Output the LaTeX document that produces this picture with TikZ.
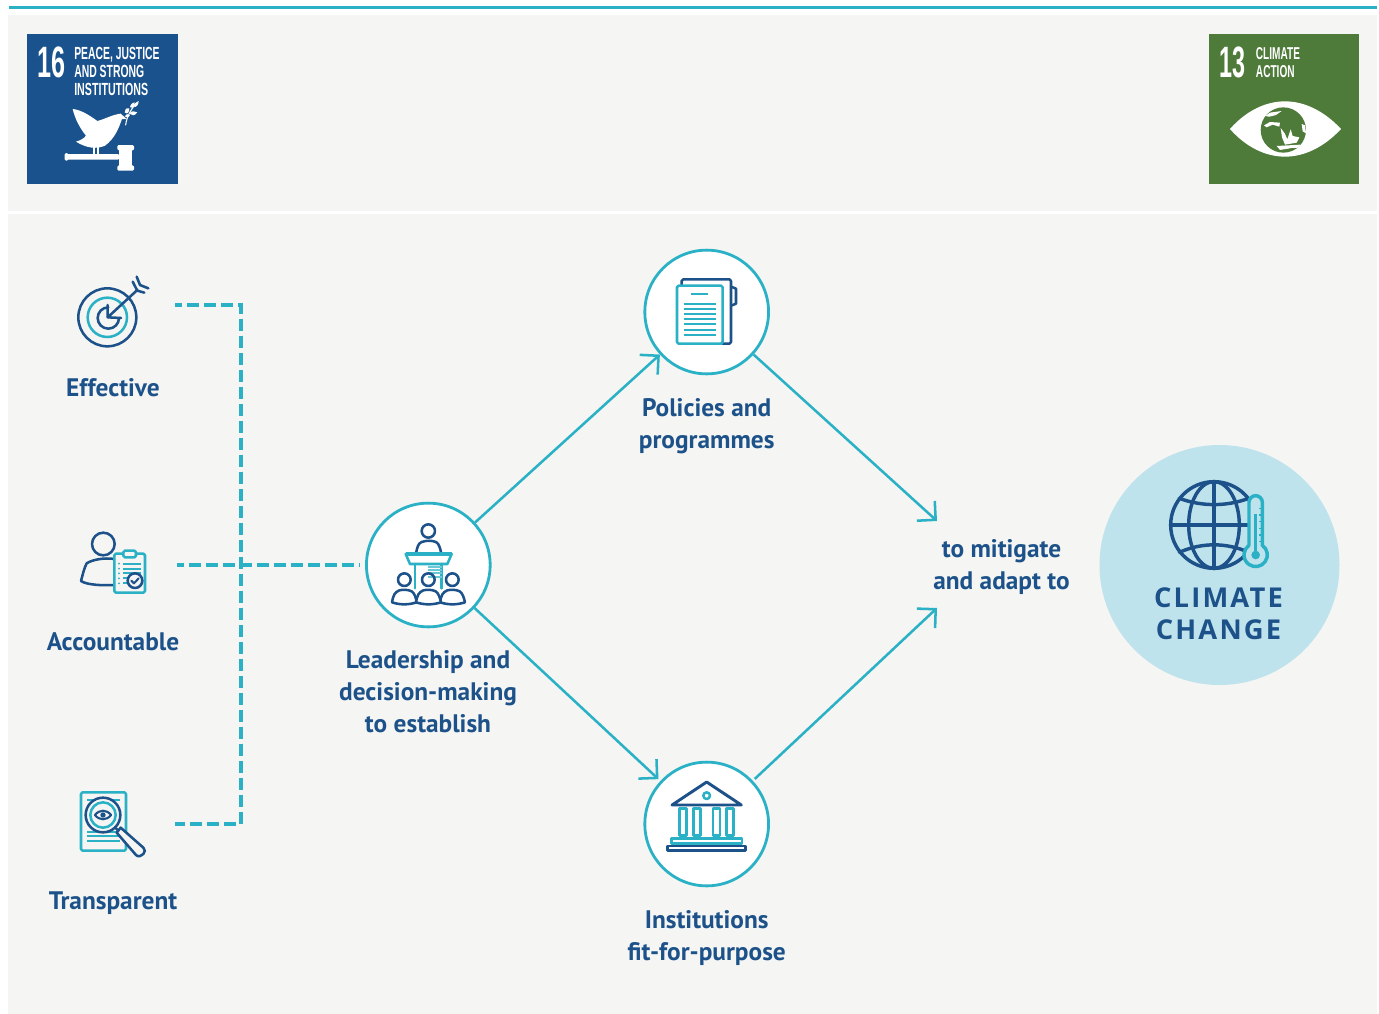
\documentclass[tikz,border=0pt]{standalone}
\usepackage{fontspec}
\usepackage{graphicx}
\setmainfont{PT Sans}
\newfontfamily\ccfont[LetterSpace=8]{Open Sans}
\newfontfamily\sdgfont{Liberation Sans}
\usetikzlibrary{arrows.meta}
\definecolor{teal}{HTML}{2BB1C6}
\definecolor{navy}{HTML}{1C5289}
\definecolor{panel}{HTML}{F5F5F3}
\definecolor{sdgblue}{HTML}{19528C}
\definecolor{sdggreen}{HTML}{4E7A3A}
\definecolor{ccfill}{HTML}{BFE3EC}
\newcommand{\sq}[3]{\resizebox{#1}{#2}{\sdgfont\bfseries #3}}
\tikzset{
  px/.style={x=0.75pt,y=-0.75pt},
  zoomed/.style={x=0.25pt,y=-0.25pt,line cap=round,line join=round},
  hub/.style={circle,draw=teal,fill=white,line width=2.1pt,minimum size=92.8pt,inner sep=0pt},
  flow/.style={draw=teal,line width=1.9pt,-{Straight Barb[length=10pt,width=19pt,line width=1.9pt,angle'=90]}},
  dashlink/.style={draw=teal,line width=2.5pt,dash pattern=on 9pt off 3.75pt,dash phase=4pt},
  label/.style={text=navy,font=\fontsize{19}{24}\selectfont\bfseries,align=center,inner sep=0pt},
  cctext/.style={text=navy,font=\fontsize{20.5}{24}\selectfont\ccfont\bfseries,align=center,inner sep=0pt},
  sdg/.style={text=white,inner sep=0pt,anchor=base west},
  ic/.style={line width=1.9pt},
  icn/.style={ic,draw=navy},
  ict/.style={ic,draw=teal},
}
\begin{document}
\begin{tikzpicture}[px]
\useasboundingbox (0,0) rectangle (1379,1014);
\fill[white] (0,0) rectangle (1379,1014);
\fill[panel] (8,15) rectangle (1377,211);
\fill[panel] (8,214) rectangle (1377,1014);
\fill[teal] (9,5.5) rectangle (1377,8.5);

% SDG 16
\fill[sdgblue] (27,34) rectangle (178,184);
\node[sdg] at (37.7,77.3) {\sq{21pt}{23pt}{16}};
\node[sdg] at (74,59.3) {\sq{64pt}{9.2pt}{PEACE, JUSTICE}};
\node[sdg] at (74,77.3) {\sq{52.5pt}{9.2pt}{AND STRONG}};
\node[sdg] at (74,95) {\sq{55.5pt}{9.2pt}{INSTITUTIONS}};
\begin{scope}[shift={(60,95)},zoomed]
\fill[white] (38,42) .. controls (60,44) and (85,58) .. (112,78)
  .. controls (135,72) and (160,58) .. (182,56) -- (200,72) -- (186,72)
  .. controls (176,100) and (165,130) .. (135,152) .. controls (110,163) and (80,160) .. (48,140)
  .. controls (62,136) and (72,130) .. (78,122) .. controls (60,100) and (45,72) .. (38,42) -- cycle;
\draw[white,line width=1.3pt,line cap=butt] (103,155) -- (103,180) (115,155) -- (115,180);
\fill[white,rounded corners=1pt] (17,177) rectangle (178,194);
\fill[white,rounded corners=1pt] (14,174) rectangle (25,197);
\fill[white] (178,160) rectangle (215,215);
\fill[white,rounded corners=1pt] (172,150) rectangle (222,166);
\fill[white,rounded corners=1pt] (172,211) rectangle (222,227);
\draw[white,line width=.8pt] (197,90) .. controls (200,65) and (212,45) .. (228,25);
\fill[white] (194,52) .. controls (196,38) and (204,38) .. (208,40) .. controls (208,52) and (202,60) .. (194,52) -- cycle;
\fill[white] (210,36) .. controls (212,24) and (222,22) .. (224,22) .. controls (224,34) and (218,42) .. (210,36) -- cycle;
\fill[white] (220,34) .. controls (226,24) and (232,18) .. (236,18) .. controls (236,30) and (228,40) .. (220,34) -- cycle;
\fill[white] (194,64) .. controls (198,56) and (204,56) .. (210,60) .. controls (206,68) and (200,70) .. (194,64) -- cycle;
\fill[white] (208,56) .. controls (214,46) and (224,48) .. (232,52) .. controls (224,64) and (214,62) .. (208,56) -- cycle;
\end{scope}

% SDG 13
\fill[sdggreen] (1209,34) rectangle (1359,184);
\node[sdg] at (1219.3,77.3) {\sq{19.5pt}{23pt}{13}};
\node[sdg] at (1255.7,59.3) {\sq{33pt}{9pt}{CLIMATE}};
\node[sdg] at (1255.7,77.3) {\sq{29pt}{9pt}{ACTION}};
\begin{scope}[shift={(1190,0)},zoomed]
\fill[white] (120,387) .. controls (170,330) and (230,304) .. (285,304) .. controls (340,304) and (400,330) .. (453,387)
  .. controls (400,444) and (340,470) .. (285,470) .. controls (230,470) and (170,444) .. (120,387) -- cycle;
\end{scope}
\begin{scope}[shift={(1250,100)},zoomed]
\fill[sdggreen] (100,90) circle[radius=68];
\begin{scope}
\clip (100,90) circle[radius=68];
\fill[white] (45,48) -- (60,38) -- (95,33) -- (78,45) -- (58,50) -- cycle;
\fill[white] (42,76) -- (60,66) -- (90,68) -- (88,80) -- (68,74) -- (50,82) -- cycle;
\fill[white] (92,84) -- (104,100) -- (112,118) -- (122,88) -- (128,108) -- (148,112) -- (140,128) -- (105,134) -- (96,112) -- cycle;
\fill[white] (80,138) -- (150,134) -- (170,142) -- (125,144) -- (90,150) -- cycle;
\fill[white] (155,72) -- (165,76) -- (168,100) -- (158,94) -- cycle;
\end{scope}
\end{scope}

% connectors
\node[hub] (lead) at (428.3,565) {};
\node[hub] (pol) at (706.7,312) {};
\node[hub,outer sep=3pt] (inst) at (706.7,824) {};
\coordinate (mitA) at (937,521);
\coordinate (mitB) at (937,608);
\coordinate (tipE) at (175,305);
\coordinate (tipT) at (175,824);
\coordinate (cornerE) at (241,305);
\coordinate (cornerT) at (241,824);
\coordinate (tipA) at (177,565);
\coordinate (leadIn) at (360,565);
\draw[flow] (lead) -- (pol);
\draw[flow] (lead) -- (inst);
\draw[flow] (pol) -- (mitA);
\draw[flow] (inst) -- (mitB);
\draw[dashlink] (tipE) -- (cornerE) -- (cornerT) -- (tipT);
\draw[dashlink] (tipA) -- (leadIn);

% labels
\node[label] (lEff) at (113,388) {Effective};
\node[label] (lAcc) at (113,642) {Accountable};
\node[label] (lTra) at (113,903) {Transparent};
\node[label] (lPol) at (706.7,426) {Policies and\\programmes};
\node[label] (lLea) at (428,692) {Leadership and\\decision-making\\to establish};
\node[label] (lIns) at (706.7,938) {Institutions\\fit-for-purpose};
\node[label] (lMit) at (1001.5,567) {to mitigate\\and adapt to};

% climate change
\node[circle,fill=ccfill,minimum size=180pt,inner sep=0pt] (cc) at (1219.5,565) {};
\node[cctext] (lCC) at (1218.5,614) {CLIMATE\\CHANGE};
\begin{scope}[shift={(1140,465)},zoomed]
\draw[icn,line width=2.6pt] (222,180) circle[radius=130];
\draw[icn,line width=2.6pt] (222,180) ellipse[x radius=76,y radius=130];
\draw[icn,line width=2.6pt] (222,50) -- (222,310) (92,180) -- (352,180);
\draw[icn,line width=2.6pt] (118,100) .. controls (185,125) and (260,125) .. (326,100);
\draw[icn,line width=2.6pt] (118,262) .. controls (185,232) and (260,232) .. (326,262);
\draw[teal,fill=ccfill,line width=2.6pt] (327,241) -- (327,112) arc[start angle=-180,end angle=0,radius=20] -- (367,241)
  arc[start angle=-55,end angle=235,radius=35] -- cycle;
\draw[teal,line width=2.4pt,line cap=butt] (347,148) -- (347,270);
\fill[teal] (347,270) circle[radius=13];
\draw[teal,line width=.8pt,line cap=butt] (357,130) -- (364,130) (357,150) -- (364,150) (357,170) -- (364,170) (357,190) -- (364,190) (357,210) -- (364,210) (357,230) -- (364,230);
\end{scope}

% Effective icon
\begin{scope}[shift={(60,270)},zoomed]
\draw[icn] (142,142) circle[radius=87];
\draw[ict] (142,142) circle[radius=59];
\draw[icn] (145,112) arc[start angle=-90,end angle=-360,radius=32];
\draw[icn] (143,105) -- (143,142) -- (183,144);
\draw[icn] (143,142) -- (232,60);
\draw[icn] (218,35) -- (232,62) -- (253,68);
\draw[icn] (230,20) -- (240,45) -- (265,55);
\end{scope}

% Accountable icon
\begin{scope}[shift={(60,520)},zoomed]
\draw[icn] (130,72) circle[radius=34];
\draw[icn] (163,117) .. controls (130,112) and (95,120) .. (80,130) .. controls (72,145) and (68,165) .. (63,183) .. controls (80,195) and (130,197) .. (163,195);
\draw[ict,fill=panel,rounded corners=1.2pt] (163,101) rectangle (255,218);
\draw[ict,fill=panel,rounded corners=1.2pt] (190,92) rectangle (228,112);
\draw[teal,line width=1.7pt,line cap=butt] (190,131) -- (243,131) (190,146) -- (243,146) (190,160) -- (243,160) (190,175) -- (215,175) (190,190) -- (205,190);
\fill[teal] (177,131) circle[radius=3] (177,146) circle[radius=3] (177,160) circle[radius=3] (177,175) circle[radius=3] (177,190) circle[radius=3];
\draw[icn,fill=panel] (225,182) circle[radius=22];
\draw[navy,line width=1.5pt] (214,182) -- (222,190) -- (236,175);
\end{scope}

% Transparent icon
\begin{scope}[shift={(60,780)},zoomed]
\draw[ict,rounded corners=1.2pt] (63,37) rectangle (198,212);
\draw[teal,line width=1.7pt,line cap=butt] (82,60) -- (180,60) (82,155) -- (180,155) (82,169) -- (180,169) (82,184) -- (180,184);
\draw[icn,fill=panel] (129,105) circle[radius=52];
\draw[ict] (129,105) circle[radius=38];
\draw[navy,line width=1.6pt] (105,105) .. controls (118,88) and (140,88) .. (153,105) .. controls (140,122) and (118,122) .. (105,105) -- cycle;
\fill[navy] (129,105) circle[radius=8];
\draw[icn,fill=panel] (182,143) -- (170,158) -- (228,225) .. controls (235,232) and (245,228) .. (250,222) .. controls (256,215) and (256,210) .. (250,203) -- cycle;
\draw[icn] (165,142) -- (175,152);
\end{scope}

% Leadership icon
\begin{scope}[shift={(360,495)},zoomed]
\draw[icn] (205,108) circle[radius=20];
\draw[icn] (168,175) .. controls (172,155) and (175,145) .. (185,141) .. controls (200,136) and (215,136) .. (228,141) .. controls (238,147) and (240,160) .. (244,175);
\draw[ict] (137,177) -- (275,177) -- (262,207) -- (150,207) -- cycle;
\draw[teal,line width=2.6pt,line cap=butt] (137,177) -- (275,177);
\draw[ict] (165,207) -- (165,280) (245,207) -- (245,280);
\draw[teal!70,line width=1.7pt,line cap=butt] (205,215) -- (245,215) (205,225) -- (245,225) (205,235) -- (245,235) (205,245) -- (245,245);
\draw[icn] (133,254) circle[radius=19];
\draw[icn] (205,254) circle[radius=19];
\draw[icn] (277,254) circle[radius=19];
\draw[icn,fill=white] (96,322) .. controls (100,300) and (104,292) .. (118,286) .. controls (130,283) and (145,284) .. (155,289) .. controls (165,296) and (168,310) .. (170,322) .. controls (145,330) and (120,330) .. (96,322) -- cycle;
\draw[icn,fill=white] (240,322) .. controls (244,300) and (248,292) .. (262,286) .. controls (274,283) and (289,284) .. (299,289) .. controls (309,296) and (312,310) .. (315,322) .. controls (290,330) and (265,330) .. (240,322) -- cycle;
\draw[icn,fill=white] (168,322) .. controls (172,300) and (176,292) .. (190,286) .. controls (202,283) and (217,284) .. (227,289) .. controls (237,296) and (240,310) .. (243,322) .. controls (218,330) and (193,330) .. (168,322) -- cycle;
\end{scope}

% Policies icon
\begin{scope}[shift={(636,242)},zoomed]
\draw[icn,rounded corners=1.2pt] (137,130) -- (137,112) -- (285,112) -- (285,305) -- (260,305);
\draw[icn,line join=round] (288,135) -- (300,140) -- (300,185) -- (288,190);
\draw[ict,fill=white,rounded corners=1.2pt] (123,131) rectangle (260,305);
\draw[teal,line width=1.7pt,line cap=butt] (166,155) -- (215,155);
\draw[teal,line width=1.7pt,line cap=butt] (143,185) -- (240,185) (143,200) -- (240,200) (143,216) -- (240,216) (143,232) -- (240,232) (143,247) -- (240,247) (143,263) -- (240,263) (143,278) -- (240,278);
\end{scope}

% Institutions icon
\begin{scope}[shift={(636,755)},zoomed]
\draw[navy,line width=2.2pt] (108,150) -- (212,81) -- (316,150) -- cycle;
\draw[ict] (212,122) circle[radius=10];
\draw[ict] (131,161) rectangle (152,241);
\draw[ict] (172,161) rectangle (193,241);
\draw[ict] (231,161) rectangle (252,241);
\draw[ict] (272,161) rectangle (293,241);
\draw[ict] (106,250) rectangle (318,265);
\draw[icn] (95,273) rectangle (329,287);
\end{scope}
\end{tikzpicture}
\end{document}
